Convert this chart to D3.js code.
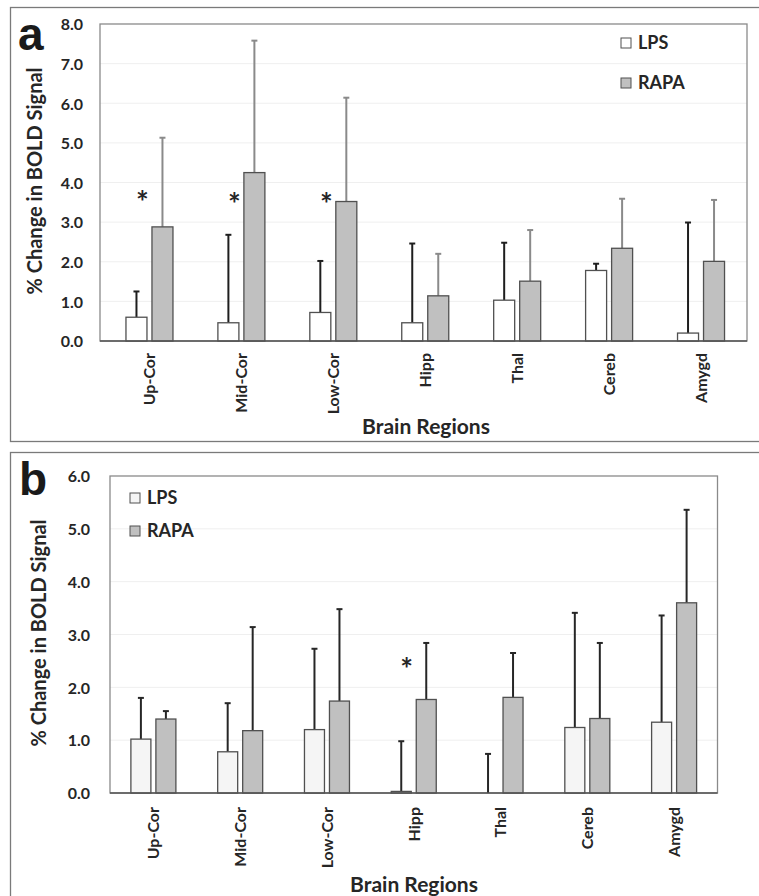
<!DOCTYPE html>
<html>
<head>
<meta charset="utf-8">
<script src="https://cdn.jsdelivr.net/npm/d3@7"></script>
<style>
  body { margin: 0; background: #fff; }
  svg text { font-family: Lato, "Open Sans", sans-serif; font-weight: bold; fill: #262626; }
</style>
</head>
<body>
<div id="chart"></div>
<script>
// --- data ---
var regions = ["Up-Cor", "Mid-Cor", "Low-Cor", "Hipp", "Thal", "Cereb", "Amygd"]
var seriesNames = ["LPS", "RAPA"]
var yTicksA = [0, 1, 2, 3, 4, 5, 6, 7, 8]
var yTicksB = [0, 1, 2, 3, 4, 5, 6]

// panel a
var lpsA = [0.60, 0.46, 0.72, 0.46, 1.03, 1.78, 0.20]
var lpsSdA = [0.65, 2.22, 1.30, 2.00, 1.45, 0.17, 2.79]
var rapaA = [2.88, 4.25, 3.52, 1.14, 1.51, 2.34, 2.01]
var rapaSdA = [2.25, 3.33, 2.62, 1.06, 1.29, 1.25, 1.55]
var sigA = ["Up-Cor", "Mid-Cor", "Low-Cor"]
var starLevelA = [3.62, 3.57, 3.57]

// panel b
var lpsB = [1.02, 0.78, 1.20, 0.03, 0.00, 1.24, 1.34]
var lpsSdB = [0.78, 0.92, 1.53, 0.95, 0.74, 2.17, 2.02]
var rapaB = [1.40, 1.18, 1.74, 1.77, 1.81, 1.41, 3.60]
var rapaSdB = [0.15, 1.96, 1.74, 1.07, 0.84, 1.43, 1.76]
var sigB = ["Hipp"]
var starLevelB = [2.42]

var svg = d3.select("#chart").append("svg")
  .attr("width", 759)
  .attr("height", 896)

function drawPanel(opt) {
  var g = svg.append("g")

  // outer frame
  g.append("rect")
    .attr("x", opt.box[0]).attr("y", opt.box[1])
    .attr("width", opt.box[2]).attr("height", opt.box[3])
    .attr("fill", "none").attr("stroke", "#7a7a7a").attr("stroke-width", 1.3)

  var y = d3.scaleLinear().domain([0, opt.yMax]).range([opt.bottom, opt.top])
  var x = d3.scaleBand().domain(regions).range(opt.xRange)

  // gridlines
  g.selectAll(".grid").data(opt.yTicks.slice(1, -1)).enter().append("line")
    .attr("x1", opt.left).attr("x2", opt.right)
    .attr("y1", function (d) { return y(d) }).attr("y2", function (d) { return y(d) })
    .attr("stroke", "#efefef").attr("stroke-width", 1)

  // plot frame
  g.append("rect")
    .attr("x", opt.left).attr("y", opt.top)
    .attr("width", opt.right - opt.left).attr("height", opt.bottom - opt.top)
    .attr("fill", "none").attr("stroke", "#8a8a8a").attr("stroke-width", 1.3)

  // y axis
  var ya = g.append("g")
    .attr("transform", "translate(" + (opt.left - opt.tickPad) + ",0)")
    .call(d3.axisLeft(y).tickValues(opt.yTicks).tickSize(0).tickFormat(d3.format(".1f")))
  ya.select(".domain").remove()
  ya.selectAll("text").style("font-size", "16px").attr("dy", "0.36em").attr("x", 0)

  // x axis (category labels)
  var xa = g.append("g")
    .attr("transform", "translate(0," + opt.bottom + ")")
    .call(d3.axisBottom(x).tickSize(0))
  xa.select(".domain").remove()
  xa.selectAll("text")
    .style("font-size", "16px")
    .attr("text-anchor", "end")
    .attr("transform", "rotate(-90)")
    .attr("x", -opt.labelGap).attr("y", 0).attr("dy", "0.36em")

  // bars
  var series = [
    { name: seriesNames[0], vals: opt.lps, sd: opt.lpsSd, fill: opt.fills[0], err: opt.errColors[0], side: -1 }
  , { name: seriesNames[1], vals: opt.rapa, sd: opt.rapaSd, fill: opt.fills[1], err: opt.errColors[1], side: 1 }
  ]

  series.forEach(function (s) {
    var barX = function (d, i) {
      var c = x(regions[i]) + x.bandwidth() / 2
      return s.side < 0 ? c - opt.gap / 2 - opt.barW : c + opt.gap / 2
    }

    // error bars (upper only)
    var eg = g.append("g")
    eg.selectAll("line.stem").data(s.vals).enter().append("line")
      .attr("x1", function (d, i) { return barX(d, i) + opt.barW / 2 })
      .attr("x2", function (d, i) { return barX(d, i) + opt.barW / 2 })
      .attr("y1", function (d) { return y(d) })
      .attr("y2", function (d, i) { return y(d + s.sd[i]) })
      .attr("stroke", s.err).attr("stroke-width", 2)
    eg.selectAll("line.cap").data(s.vals).enter().append("line")
      .attr("x1", function (d, i) { return barX(d, i) + opt.barW / 2 - 3 })
      .attr("x2", function (d, i) { return barX(d, i) + opt.barW / 2 + 3 })
      .attr("y1", function (d, i) { return y(d + s.sd[i]) })
      .attr("y2", function (d, i) { return y(d + s.sd[i]) })
      .attr("stroke", s.err).attr("stroke-width", 2)

    g.append("g").selectAll("rect").data(s.vals).enter().append("rect")
      .attr("x", barX)
      .attr("y", function (d) { return y(d) })
      .attr("width", opt.barW)
      .attr("height", function (d) { return y(0) - y(d) })
      .attr("fill", s.fill)
      .attr("stroke", "#505050").attr("stroke-width", 1.3)
  })

  // baseline
  g.append("line")
    .attr("x1", opt.left).attr("x2", opt.right)
    .attr("y1", y(0)).attr("y2", y(0))
    .attr("stroke", "#555").attr("stroke-width", 1.5)

  // significance stars
  g.selectAll(".star").data(opt.sig).enter().append("text")
    .attr("x", function (d) { return x(d) + x.bandwidth() / 2 - 7 })
    .attr("y", function (d, i) { return y(opt.starLevel[i]) + 15 })
    .attr("text-anchor", "middle")
    .style("font-size", "30px")
    .text("*")

  // legend
  seriesNames.forEach(function (n, i) {
    g.append("rect")
      .attr("x", opt.legend[0]).attr("y", opt.legend[1] + i * opt.legend[2])
      .attr("width", 10).attr("height", 10)
      .attr("fill", opt.fills[i]).attr("stroke", "#505050").attr("stroke-width", 1)
    g.append("text")
      .attr("x", opt.legend[0] + 17).attr("y", opt.legend[1] + 11 + i * opt.legend[2])
      .style("font-size", "18px")
      .text(n)
  })

  // titles
  g.append("text")
    .attr("transform", "translate(" + opt.yTitle[0] + "," + opt.yTitle[1] + ") rotate(-90)")
    .attr("text-anchor", "middle")
    .style("font-size", "20px")
    .text("% Change in BOLD Signal")
  g.append("text")
    .attr("x", opt.xTitle[0]).attr("y", opt.xTitle[1])
    .attr("text-anchor", "middle")
    .style("font-size", "21px")
    .text("Brain Regions")

  // panel letter
  g.append("text")
    .attr("x", opt.letter[0]).attr("y", opt.letter[1])
    .style("font-family", "'Liberation Sans', Arial, sans-serif")
    .style("font-size", "46px")
    .style("fill", "#1a1a1a")
    .text(opt.letter[2])
}

drawPanel({
  box: [10.5, 7.5, 760, 434]
, left: 100, right: 747, top: 24, bottom: 341
, xRange: [103.5, 747]
, yMax: 8, yTicks: yTicksA, tickPad: 17, labelGap: 12
, barW: 21, gap: 5
, lps: lpsA, lpsSd: lpsSdA, rapa: rapaA, rapaSd: rapaSdA
, fills: ["#ffffff", "#c0c0c0"], errColors: ["#1e1e1e", "#8a8a8a"]
, sig: sigA, starLevel: starLevelA
, legend: [621, 38, 40]
, yTitle: [42, 181]
, xTitle: [426, 434]
, letter: [18, 50, "a"]
})

drawPanel({
  box: [10.5, 452.5, 760, 460]
, left: 110, right: 717.5, top: 476, bottom: 793
, xRange: [110, 717.5]
, yMax: 6, yTicks: yTicksB, tickPad: 20, labelGap: 14
, barW: 20, gap: 5
, lps: lpsB, lpsSd: lpsSdB, rapa: rapaB, rapaSd: rapaSdB
, fills: ["#f5f5f5", "#c0c0c0"], errColors: ["#262626", "#262626"]
, sig: sigB, starLevel: starLevelB
, legend: [130, 493, 33]
, yTitle: [46, 633]
, xTitle: [414, 892]
, letter: [19, 495, "b"]
})
</script>
</body>
</html>
